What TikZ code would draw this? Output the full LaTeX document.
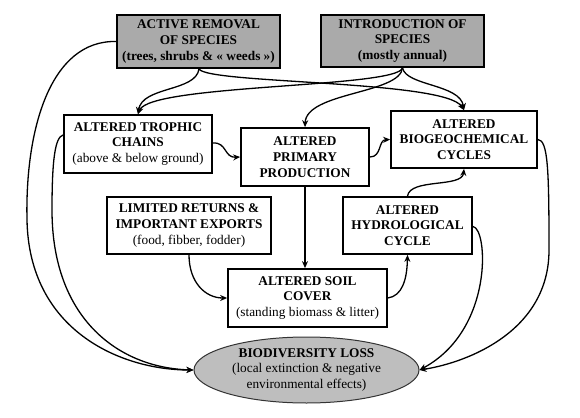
\documentclass[tikz,border=0pt]{standalone}
\usepackage{fontspec}
\setmainfont{LiberationSerif}[Extension=.ttf,UprightFont=*-Regular,BoldFont=*-Bold,ItalicFont=*-Italic,BoldItalicFont=*-BoldItalic]
\usetikzlibrary{arrows.meta,shapes.geometric,calc}
\definecolor{boxgray}{RGB}{170,170,170}
\definecolor{ellgray}{RGB}{190,190,190}
\tikzset{
  stepbox/.style={draw, line width=1.7pt, align=center, inner sep=0pt,
    font=\fontsize{13.3}{15.8}\selectfont},
  graybox/.style={stepbox, fill=boxgray},
  conn/.style={line width=1.3pt, -{Stealth[length=7pt,width=6pt]}},
  line/.style={line width=1.3pt}
}
\newcommand{\ttl}[1]{\textbf{#1}}
\begin{document}
\begin{tikzpicture}[x=1pt,y=-1pt]
\useasboundingbox (0,0) rectangle (580,417);
% nodes
\node[graybox, minimum width=163pt, minimum height=53pt] (rem) at (198.5,41.5)
  {\ttl{ACTIVE REMOVAL}\\\ttl{OF SPECIES}\\\ttl{(trees, shrubs \& « weeds »)}};
\node[graybox, minimum width=163pt, minimum height=52pt] (intro) at (402.5,41)
  {\ttl{INTRODUCTION OF}\\\ttl{SPECIES}\\\ttl{(mostly annual)}};
\node[stepbox, minimum width=148pt, minimum height=58pt] (troph) at (138,144)
  {\ttl{ALTERED TROPHIC}\\\ttl{CHAINS}\\(above \& below ground)};
\node[stepbox, minimum width=128pt, minimum height=58pt] (prim) at (305,157)
  {\ttl{ALTERED}\\\ttl{PRIMARY}\\\ttl{PRODUCTION}};
\node[stepbox, minimum width=146pt, minimum height=57pt] (bio) at (464,139.5)
  {\ttl{ALTERED}\\\ttl{BIOGEOCHEMICAL}\\\ttl{CYCLES}};
\node[stepbox, minimum width=164pt, minimum height=57pt] (lim) at (189,225.5)
  {\ttl{LIMITED RETURNS \&}\\\ttl{IMPORTANT EXPORTS}\\(food, fibber, fodder)};
\node[stepbox, minimum width=129pt, minimum height=57pt] (hydro) at (407.5,225.5)
  {\ttl{ALTERED}\\\ttl{HYDROLOGICAL}\\\ttl{CYCLE}};
\node[stepbox, minimum width=159pt, minimum height=58pt] (soil) at (307.5,298)
  {\ttl{ALTERED SOIL}\\\ttl{COVER}\\(standing biomass \& litter)};
\node[ellipse, draw=black!80, line width=1pt, fill=ellgray, minimum width=225pt,
  minimum height=66pt, inner sep=0pt, align=center,
  font=\fontsize{13.3}{15.8}\selectfont] (ell) at (306.5,370)
  {\ttl{BIODIVERSITY LOSS}\\(local extinction \& negative\\environmental effects)};
% top connectors
\draw[conn] ($(rem.south)+(0.5,0)$) .. controls (196,92) and (142,86) .. (troph.north);
\draw[conn] ($(rem.south)+(0.5,0)$) .. controls (206,84) and (445,80) .. (bio.north);
\draw[conn] (intro.south) .. controls (398,88) and (150,84) .. (troph.north);
\draw[conn] (intro.south) .. controls (400,94) and (306,92) .. (prim.north);
\draw[conn] (intro.south) .. controls (406,86) and (460,84) .. (bio.north);
% left long connectors
\draw[conn] (rem.west) .. controls (50,40) and (25,130) .. (27,220)
  .. controls (29,330) and (120,370) .. (ell.west);
\draw[conn] ($(troph.west)+(0,-9)$) .. controls (55,137) and (52,160) .. (52,210)
  .. controls (52,320) and (120,368) .. (ell.west);
% middle connectors
\draw[conn] ($(troph.east)+(0,-1)$) .. controls (227,142) and (224,158) .. (prim.west);
\draw[conn] (prim.east) .. controls (382,157) and (378,140) .. (bio.west);
\draw[conn] (prim.south) -- (soil.north -| prim.south);
\draw[conn] (lim.south) .. controls (189,282) and (205,298) .. (soil.west);
\draw[conn] (soil.east) .. controls (402,296) and (407,280) .. (hydro.south);
\draw[conn] (hydro.north) .. controls (410,178) and (462,188) .. (bio.south);
% right long connectors
\draw[conn] ($(hydro.east)+(0,1)$) .. controls (488,228) and (494,330) .. (ell.east);
\draw[conn] (bio.east) .. controls (548,140) and (549,170) .. (549,250)
  .. controls (549,330) and (470,362) .. (ell.east);
\end{tikzpicture}
\end{document}
